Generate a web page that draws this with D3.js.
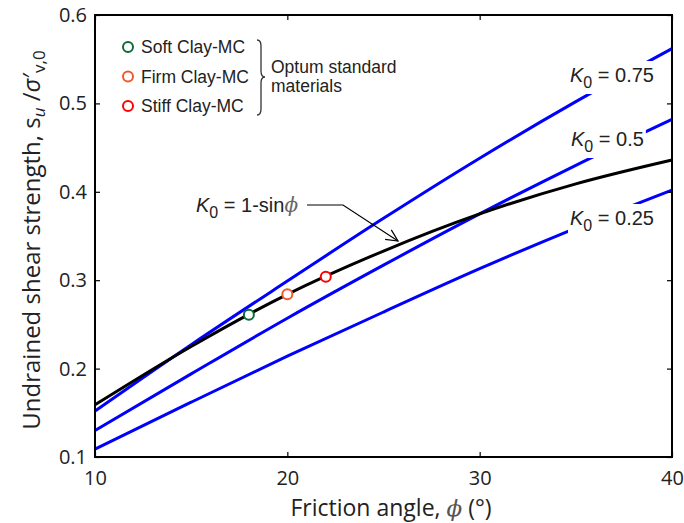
<!DOCTYPE html>
<html>
<head>
<meta charset="utf-8">
<script src="https://cdn.jsdelivr.net/npm/d3@7"></script>
<style>
  body { margin: 0; background: #fff; }
  .tick-label { font-family: "Open Sans", sans-serif; font-size: 20px; fill: #222; }
  .axis-title { font-family: "Open Sans", sans-serif; font-size: 23px; fill: #222; }
  .note { font-family: "Liberation Sans", Arial, sans-serif; fill: #222; }
</style>
</head>
<body>
<div id="chart"></div>
<script>
var phi = [10, 15, 20, 25, 30, 35, 40]
var k025 = [0.109, 0.162, 0.214, 0.264, 0.313, 0.359, 0.402]
var k050 = [0.130, 0.194, 0.257, 0.317, 0.375, 0.430, 0.482]
var k075 = [0.152, 0.227, 0.299, 0.370, 0.438, 0.502, 0.562]
var kJaky = [0.159, 0.225, 0.284, 0.333, 0.375, 0.409, 0.436]

var materials = ["Soft Clay-MC", "Firm Clay-MC", "Stiff Clay-MC"]
var matPhi = [18, 20, 22]
var matSu = [0.261, 0.284, 0.304]
var matColors = ["#0b6b38", "#f05a28", "#ff0000"]

var xTicks = [10, 20, 30, 40]
var yTicks = [0.1, 0.2, 0.3, 0.4, 0.5, 0.6]

var margin = { top: 15, left: 95, right: 12, bottom: 66 }
var widthSvg = 684
var heightSvg = 523
var w = widthSvg - margin.left - margin.right
var h = heightSvg - margin.top - margin.bottom

var svg = d3.select("#chart").append("svg")
  .attr("width", widthSvg)
  .attr("height", heightSvg)

var g = svg.append("g")
  .attr("transform", "translate(" + margin.left + "," + margin.top + ")")

var x = d3.scaleLinear().domain([10, 40]).range([0, w])
var y = d3.scaleLinear().domain([0.1, 0.6]).range([h, 0])

var line = d3.line()
  .x(function(d) { return x(d[0]) })
  .y(function(d) { return y(d[1]) })
  .curve(d3.curveMonotoneX)

var blueSeries = [k075, k050, k025]
blueSeries.forEach(function(vals) {
  g.append("path")
    .datum(d3.zip(phi, vals))
    .attr("d", line)
    .attr("fill", "none")
    .attr("stroke", "#0000ff")
    .attr("stroke-width", 3)
})

g.append("path")
  .datum(d3.zip(phi, kJaky))
  .attr("d", line)
  .attr("fill", "none")
  .attr("stroke", "#000")
  .attr("stroke-width", 3)

// K0 labels with white boxes that cut the lines
var kLabels = [
  { text: "0.75", x: 570, y: 82 },
  { text: "0.5", x: 571, y: 146 },
  { text: "0.25", x: 570, y: 225 }
]
kLabels.forEach(function(l) {
  var lg = svg.append("g")
  var t = lg.append("text").attr("class", "note")
    .attr("x", l.x).attr("y", l.y).style("font-size", "20px")
  t.append("tspan").style("font-style", "italic").text("K")
  t.append("tspan").attr("dy", 6).style("font-size", "16px").text("0")
  t.append("tspan").attr("dy", -6).text(" = " + l.text)
  var bb = t.node().getBBox()
  lg.insert("rect", "text")
    .attr("x", bb.x - 2).attr("y", bb.y - 3)
    .attr("width", bb.width + 4).attr("height", bb.height + 6)
    .attr("fill", "#fff")
})

// materials
g.selectAll(".mat")
  .data(materials)
  .enter().append("circle")
  .attr("class", "mat")
  .attr("cx", function(d, i) { return x(matPhi[i]) })
  .attr("cy", function(d, i) { return y(matSu[i]) })
  .attr("r", 5)
  .attr("fill", "#fff")
  .attr("stroke", function(d, i) { return matColors[i] })
  .attr("stroke-width", 2)

// legend
var legend = svg.append("g")
materials.forEach(function(m, i) {
  var ly = 47 + i * 29.5
  legend.append("circle")
    .attr("cx", 128).attr("cy", ly).attr("r", 5)
    .attr("fill", "#fff").attr("stroke", matColors[i]).attr("stroke-width", 2)
  legend.append("text").attr("class", "note")
    .attr("x", 141).attr("y", ly + 6).style("font-size", "17.5px").text(m)
})
legend.append("path")
  .attr("d", "M257,40 q4,0 4,6 L261,71 q0,6 4,6 q-4,0 -4,6 L261,109 q0,6 -4,6")
  .attr("fill", "none").attr("stroke", "#333").attr("stroke-width", 1.3)
legend.append("text").attr("class", "note")
  .attr("x", 271).attr("y", 73).style("font-size", "17.5px").text("Optum standard")
legend.append("text").attr("class", "note")
  .attr("x", 271).attr("y", 92).style("font-size", "17.5px").text("materials")

// annotation for Jaky line
var ann = svg.append("text").attr("class", "note")
  .attr("x", 196).attr("y", 212).style("font-size", "20px")
ann.append("tspan").style("font-style", "italic").text("K")
ann.append("tspan").attr("dy", 6).style("font-size", "16px").text("0")
ann.append("tspan").attr("dy", -6).text(" = 1-sin")
ann.append("tspan").style("font-family", "DejaVu Serif").style("font-style", "italic")
  .style("fill", "#666").text("ϕ")

var tip = [398, 241]
svg.append("path")
  .attr("d", "M307,205 H343 L" + tip[0] + "," + tip[1])
  .attr("fill", "none").attr("stroke", "#000").attr("stroke-width", 1.2)
var ang = Math.atan2(241 - 205, 398 - 343)
var headLen = 13
var headPts = [ang + Math.PI - 0.45, ang + Math.PI + 0.45].map(function(a) {
  return [tip[0] + headLen * Math.cos(a), tip[1] + headLen * Math.sin(a)]
})
svg.append("path")
  .attr("d", "M" + headPts[0] + " L" + tip + " L" + headPts[1])
  .attr("fill", "none").attr("stroke", "#000").attr("stroke-width", 1.2)

// axes: box with inward ticks on all sides
var tickLen = 5
var xAxisB = d3.axisBottom(x).tickValues(xTicks).tickSizeInner(-tickLen).tickSizeOuter(0).tickPadding(14)
var xAxisT = d3.axisTop(x).tickValues(xTicks).tickSizeInner(-tickLen).tickSizeOuter(0).tickFormat("")
var yAxisL = d3.axisLeft(y).tickValues(yTicks).tickSizeInner(-tickLen).tickSizeOuter(0).tickPadding(8)
  .tickFormat(d3.format(".1f"))
var yAxisR = d3.axisRight(y).tickValues(yTicks).tickSizeInner(-tickLen).tickSizeOuter(0).tickFormat("")

var axB = g.append("g").attr("transform", "translate(0," + h + ")").call(xAxisB)
var axT = g.append("g").call(xAxisT)
var axL = g.append("g").call(yAxisL)
var axR = g.append("g").attr("transform", "translate(" + w + ",0)").call(yAxisR)

;[axB, axT, axL, axR].forEach(function(a) {
  a.select(".domain").remove()
  a.selectAll("line").attr("stroke", "#000").attr("stroke-width", 1.2)
  a.selectAll("text").attr("class", "tick-label").attr("font-family", null).attr("font-size", null)
})

g.append("rect")
  .attr("x", 0).attr("y", 0).attr("width", w).attr("height", h)
  .attr("fill", "none").attr("stroke", "#000").attr("stroke-width", 2)

// axis titles
var xt = svg.append("text").attr("class", "axis-title")
  .attr("x", 391).attr("y", 516).attr("text-anchor", "middle")
xt.append("tspan").text("Friction angle, ")
xt.append("tspan").style("font-family", "DejaVu Serif").style("font-style", "italic")
  .style("fill", "#555").text("ϕ")
xt.append("tspan").text(" (°)")

var yt = svg.append("text").attr("class", "axis-title")
  .attr("transform", "translate(40,240) rotate(-90)")
  .attr("text-anchor", "middle")
  .style("font-size", "24px")
yt.append("tspan").text("Undrained shear strength, s")
yt.append("tspan").attr("dy", 5).style("font-size", "17px").style("font-style", "italic").text("u")
yt.append("tspan").attr("dy", -5).text(" /")
yt.append("tspan").style("font-style", "italic").text("σ")
yt.append("tspan").text("′")
yt.append("tspan").attr("dy", 5).style("font-size", "17px").text("v,0")
</script>
</body>
</html>
